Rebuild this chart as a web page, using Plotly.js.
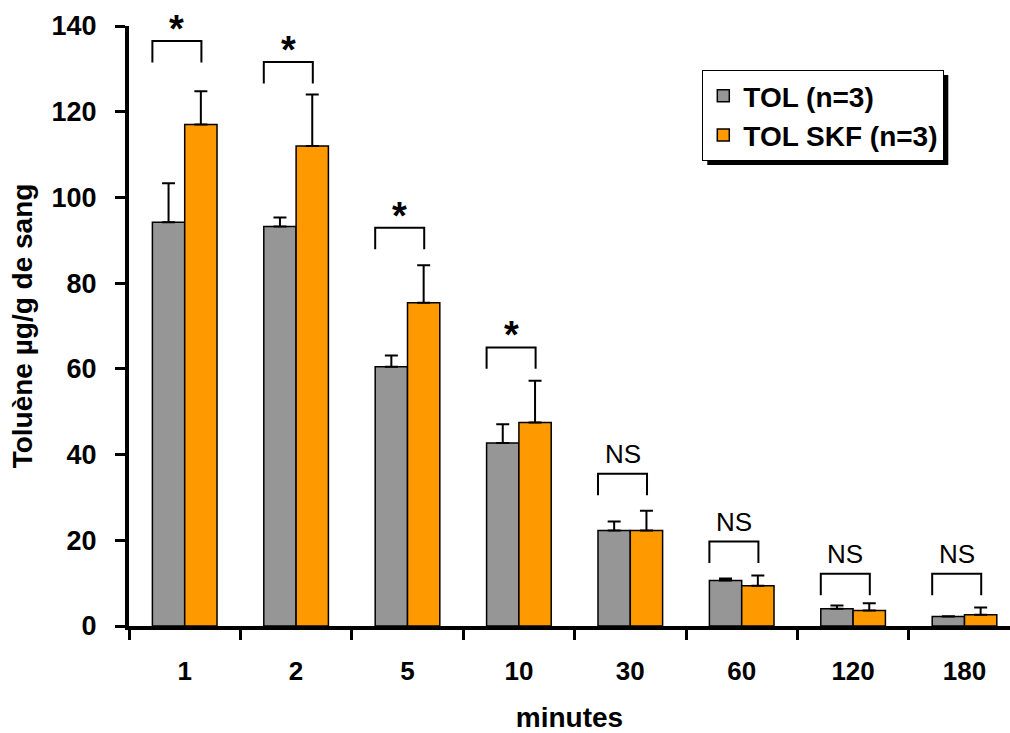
<!DOCTYPE html>
<html>
<head>
<meta charset="utf-8">
<script src="https://cdn.plot.ly/plotly-3.0.1.min.js"></script>
<style>html,body{margin:0;padding:0;background:#fff;}#chart{width:1010px;height:733px;}</style>
</head>
<body>
<div id="chart"></div>
<script>
// ---- data ----
const categories = ["1", "2", "5", "10", "30", "60", "120", "180"];
const tolValues = [94.2, 93.2, 60.5, 42.7, 22.3, 10.6, 4.0, 2.2];
const tolErrors = [9.1, 2.1, 2.6, 4.4, 2.1, 0.5, 0.8, 0.1];
const skfValues = [117.0, 112.0, 75.4, 47.5, 22.3, 9.4, 3.6, 2.6];
const skfErrors = [7.8, 12.0, 8.8, 9.7, 4.6, 2.4, 1.7, 1.7];
const sigLabels = ["*", "*", "*", "*", "NS", "NS", "NS", "NS"];
const bracketTops = [136.5, 131.6, 92.9, 65.0, 35.5, 19.7, 12.2, 12.2];
const seriesNames = ["TOL (n=3)", "TOL SKF (n=3)"];
const yTicks = [0, 20, 40, 60, 80, 100, 120, 140];

// ---- styling / layout ----
const FONT = "Liberation Sans, Arial, sans-serif";
const idx = categories.map((_, i) => i);
const W = 1010, H = 733;
const L = 129, R = 0, T = 26, B = 107;
const plotW = W - L - R, plotH = H - T - B;
const catPx = 111.4;
const xMax = -0.5 + plotW / catPx;

function bar(name, y, err, color, group) {
  return {
    type: "bar", name: name, x: idx, y: y,
    legendgroup: group,
    marker: {color: color, line: {color: "#000", width: 1.5}},
    error_y: {type: "data", array: err, arrayminus: err.map(() => 0), symmetric: false,
              visible: true, color: "#000", thickness: 2, width: 6.5},
    hoverinfo: "x+y"
  };
}
const traces = [
  bar(seriesNames[0], tolValues, tolErrors, "#969696", "a"),
  bar(seriesNames[1], skfValues, skfErrors, "#FF9900", "b")
];

const LEG = 5.0; // bracket leg length (data units)
const shapes = [];
const annotations = [];
idx.forEach(i => {
  const x0 = i - 0.29, x1 = i + 0.15, top = bracketTops[i];
  shapes.push({type: "path", xref: "x", yref: "y",
    path: `M${x0},${top - LEG} L${x0},${top} L${x1},${top} L${x1},${top - LEG}`,
    line: {color: "#000", width: 2}});
  const star = sigLabels[i] === "*";
  annotations.push({xref: "x", yref: "y", x: (x0 + x1) / 2, y: top,
    text: sigLabels[i], showarrow: false, xanchor: "center", yanchor: "middle",
    yshift: star ? 12 : 20,
    font: star ? {family: FONT, size: 38, color: "#000", weight: "bold"}
               : {family: FONT, size: 26, color: "#000"}});
});

// legend shadow (pixel -> paper); refined after render from the legend's real box
const px2x = p => (p - L) / plotW;
const py2y = p => (T + plotH - p) / plotH;
const SH = 4.5;
shapes.push({type: "rect", xref: "paper", yref: "paper", layer: "below",
  x0: px2x(706.7), x1: px2x(951.7), y0: py2y(164), y1: py2y(75.7),
  fillcolor: "#000", line: {width: 0}});

const layout = {
  width: W, height: H,
  margin: {l: L, r: R, t: T, b: B, pad: 0},
  paper_bgcolor: "#fff", plot_bgcolor: "rgba(0,0,0,0)",
  barmode: "group", bargap: 0.42, bargroupgap: 0,
  showlegend: true,
  legend: {x: px2x(702.3), y: py2y(70), xanchor: "left", yanchor: "top",
    bgcolor: "#fff", bordercolor: "#000", borderwidth: 1,
    font: {family: FONT, size: 28, color: "#000", weight: "bold"},
    tracegroupgap: 3, traceorder: "normal"},
  xaxis: {type: "linear", range: [-0.5, xMax], tickmode: "array", tickvals: idx, ticktext: categories,
    ticks: "", showgrid: false, zeroline: false, showline: true, linecolor: "#000", linewidth: 4,
    ticklabelstandoff: 19,
    tickfont: {family: FONT, size: 26, color: "#000", weight: "bold"},
    minor: {tickmode: "array", tickvals: idx.map(i => i - 0.5).concat([idx.length - 0.5]),
            ticks: "outside", ticklen: 10, tickwidth: 3, tickcolor: "#000", showgrid: false},
    title: {text: "minutes", standoff: 35, font: {family: FONT, size: 28, color: "#000", weight: "bold"}},
    fixedrange: true},
  yaxis: {range: [0, 140], tickmode: "array", tickvals: yTicks, ticks: "outside", ticklen: 10, tickwidth: 3,
    tickcolor: "#000", showgrid: false, zeroline: false, showline: true, linecolor: "#000", linewidth: 4,
    ticklabelstandoff: 13,
    tickfont: {family: FONT, size: 27, color: "#000", weight: "bold"},
    title: {text: "Toluène µg/g de sang", standoff: 12, font: {family: FONT, size: 28, color: "#000", weight: "bold"}},
    fixedrange: true},
  shapes: shapes,
  annotations: annotations
};

Plotly.newPlot("chart", traces, layout, {displayModeBar: false, staticPlot: true}).then(gd => {
  const bg = gd.querySelector(".legend .bg");
  if (!bg) return;
  const bb = bg.getBoundingClientRect();
  const gb = gd.getBoundingClientRect();
  const left = bb.left - gb.left, top = bb.top - gb.top;
  const upd = {};
  const k = shapes.length - 1;
  upd[`shapes[${k}].x0`] = px2x(left + SH);
  upd[`shapes[${k}].x1`] = px2x(left + bb.width + SH);
  upd[`shapes[${k}].y0`] = py2y(top + bb.height + SH);
  upd[`shapes[${k}].y1`] = py2y(top + SH);
  return Plotly.relayout(gd, upd);
});
</script>
</body>
</html>
